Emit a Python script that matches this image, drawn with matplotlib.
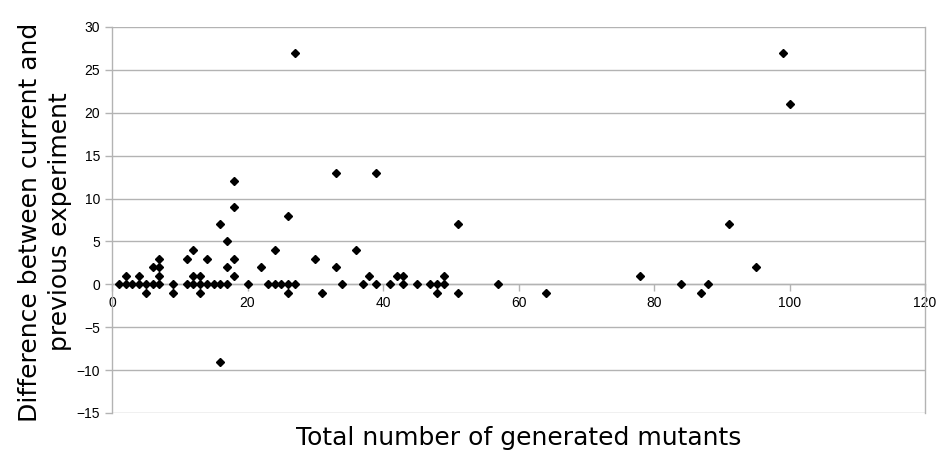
import matplotlib
matplotlib.use('Agg')
import matplotlib.pyplot as plt

# (total mutants, difference)
mutants = [1, 2, 3, 4, 5, 6, 7,
           2, 4, 7,
           5, 9,
           6, 7, 7, 9,
           11, 12, 13, 14, 15, 16, 17,
           11, 12, 12, 13, 13, 14,
           16, 16, 17, 17,
           18, 18, 18, 18,
           20, 22,
           23, 24, 25, 26, 27,
           24, 26, 26, 27,
           30, 31, 33, 33, 34,
           36, 37, 38, 39, 39,
           41, 42, 43, 43, 45, 47, 48, 48, 49, 49,
           51, 51,
           57, 64, 78, 84, 87, 88, 91, 95, 99, 100]
diff = [0, 0, 0, 0, 0, 0, 0,
        1, 1, 1,
        -1, -1,
        2, 2, 3, 0,
        0, 0, 0, 0, 0, 0, 0,
        3, 1, 4, 1, -1, 3,
        7, -9, 2, 5,
        12, 9, 3, 1,
        0, 2,
        0, 0, 0, 0, 0,
        4, -1, 8, 27,
        3, -1, 13, 2, 0,
        4, 0, 1, 13, 0,
        0, 1, 1, 0, 0, 0, 0, -1, 0, 1,
        7, -1,
        0, -1, 1, 0, -1, 0, 7, 2, 27, 21]

xticks = [0, 20, 40, 60, 80, 100, 120]
yticks = [-15, -10, -5, 0, 5, 10, 15, 20, 25, 30]

fig = plt.figure(figsize=(9.48, 4.61), dpi=100)
ax = fig.add_axes([112/948, 1-413/461, 813/948, 386/461])

grey = '#b3b3b3'
ax.plot(mutants, diff, 'D', color='black', markersize=4.5, clip_on=False, zorder=3)

ax.set_xlim(0, 120)
ax.set_ylim(-15, 30)
ax.set_xticks(xticks)
ax.set_yticks(yticks)
ax.yaxis.grid(True, color=grey, linewidth=1)
ax.set_axisbelow(True)

ax.spines['bottom'].set_position(('data', 0))
ax.spines['top'].set_visible(False)
for s in ['bottom', 'left', 'right']:
    ax.spines[s].set_color(grey)
    ax.spines[s].set_linewidth(1)
ax.tick_params(axis='both', colors=grey, length=5, width=1, labelsize=10,
               labelcolor='black', direction='out')
for lab in ax.get_xticklabels() + ax.get_yticklabels():
    lab.set_family('Liberation Sans')

fig.text(519/948, 1-438/461, 'Total number of generated mutants', fontsize=18,
         ha='center', va='center', family='DejaVu Sans')
fig.text(45/948, 1-222/461, 'Difference between current and\nprevious experiment',
         fontsize=18, rotation=90, ha='center', va='center', family='DejaVu Sans',
         linespacing=1.3)

fig.savefig('out.png', dpi=100)
